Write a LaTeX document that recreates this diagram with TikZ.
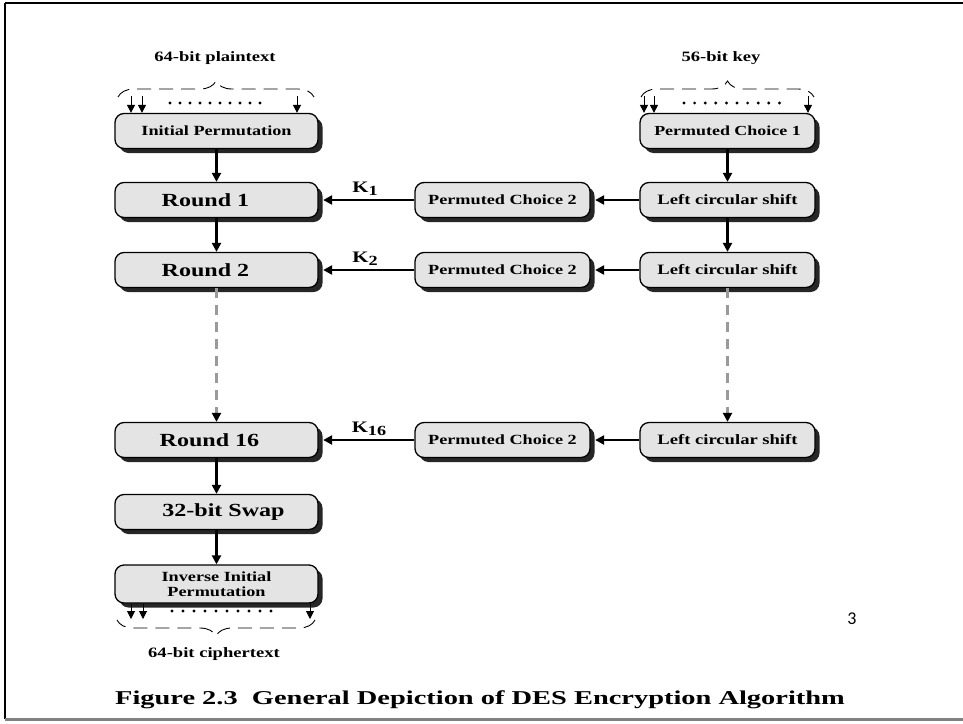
\documentclass[tikz,border=0pt]{standalone}
\usepackage{fontspec}
\setmainfont{Liberation Serif}[FakeStretch=1.3]
\newfontfamily\capfont{Liberation Serif}[FakeStretch=1.45]
\newfontfamily\pagefont{Carlito}
\usetikzlibrary{arrows.meta,shadows,decorations.pathreplacing}
\definecolor{boxfill}{HTML}{E4E4E4}
\definecolor{dashgray}{HTML}{9A9A9A}
\definecolor{framegray}{HTML}{808080}
\newcommand{\ksub}[1]{K\raisebox{-3.5pt}{\fontsize{14}{14}\selectfont #1}}
\begin{document}
\begin{tikzpicture}[x=1pt,y=-1pt,
  box/.style={draw=black, line width=1.3pt, fill=boxfill, rounded corners=9pt,
    inner sep=0pt, align=center, font=\bfseries,
    drop shadow={shadow xshift=4.5pt, shadow yshift=-4.5pt, fill=black!85, opacity=1}},
  lbox/.style={box, minimum width=203pt, minimum height=35pt},
  rbox/.style={box, minimum width=175pt, minimum height=35pt},
  flow/.style={line width=2.4pt, -{Triangle[length=9pt,width=9pt]}},
  dflow/.style={line width=2.2pt, dashgray, dash pattern=on 10pt off 7pt,
    -{Triangle[length=9pt,width=9pt,color=black]}},
  bitarrow/.style={line width=1pt, -{Triangle[length=8pt,width=8pt]}},
  bitdot/.style={circle, fill=black, inner sep=0pt, minimum size=3.2pt},
  bracebit/.style={decorate, decoration={brace, amplitude=16pt, aspect=0.5}, line width=0.9pt,
    dash pattern=on 14pt off 8pt},
  lbl/.style={font=\bfseries\fontsize{14.3}{14.3}\selectfont, inner sep=0pt},
  klbl/.style={font=\bfseries\fontsize{16}{16}\selectfont, inner sep=0pt},
  roundf/.style={font=\bfseries\fontsize{18.5}{18.5}\selectfont},
  pcf/.style={font=\bfseries\fontsize{14}{14}\selectfont},
  lcsf/.style={font=\bfseries\fontsize{14.3}{14.3}\selectfont}
]
\useasboundingbox (0,0) rectangle (963,723);
% frame
\draw[line width=1.2pt] (5,3) -- (963,3);
\draw[line width=1.2pt] (5,3) -- (5,719);
\draw[framegray, line width=3.5pt] (5,719.5) -- (963,719.5);

% left column
\node[lbox, font=\bfseries\fontsize{14}{14}\selectfont] (ip) at (216.5,131) {Initial Permutation};
\node[lbox, roundf] (r1) at (216.5,200) {Round 1\hspace*{22pt}};
\node[lbox, roundf] (r2) at (216.5,270) {Round 2\hspace*{22pt}};
\node[lbox, roundf] (r16) at (216.5,440) {Round 16\hspace*{14pt}};
\node[lbox, roundf] (sw) at (216.5,512) {\hspace*{14pt}32-bit Swap};
\node[lbox, minimum height=38pt, font=\bfseries\fontsize{14}{15}\selectfont] (iip) at (216.5,584) {Inverse Initial\\Permutation};

% middle column
\node[rbox, pcf] (pc2a) at (502.5,200) {Permuted Choice 2};
\node[rbox, pcf] (pc2b) at (502.5,270) {Permuted Choice 2};
\node[rbox, pcf] (pc2c) at (502.5,440) {Permuted Choice 2};

% right column
\node[rbox, font=\bfseries\fontsize{13.8}{13.8}\selectfont] (pc1) at (727.5,131) {Permuted Choice 1};
\node[rbox, lcsf] (lcs1) at (727.5,200) {Left circular shift};
\node[rbox, lcsf] (lcs2) at (727.5,270) {Left circular shift};
\node[rbox, lcsf] (lcs16) at (727.5,440) {Left circular shift};

% vertical flows
\draw[flow] (ip) -- (r1);
\draw[flow] (r1) -- (r2);
\draw[dflow] (r2) -- (r16);
\draw[flow] (r16) -- (sw);
\draw[flow] (sw) -- (iip);
\draw[flow] (pc1) -- (lcs1);
\draw[flow] (lcs1) -- (lcs2);
\draw[dflow] (lcs2) -- (lcs16);

% horizontal flows
\draw[flow] (lcs1.west) -- ([xshift=4.5pt]pc2a.east);
\draw[flow] (lcs2.west) -- ([xshift=4.5pt]pc2b.east);
\draw[flow] (lcs16.west) -- ([xshift=4.5pt]pc2c.east);
\draw[flow] (pc2a.west) -- ([xshift=4.5pt]r1.east);
\draw[flow] (pc2b.west) -- ([xshift=4.5pt]r2.east);
\draw[flow] (pc2c.west) -- ([xshift=4.5pt]r16.east);

% key labels
\node[klbl] (k1) at (365,189) {\ksub{1}};
\node[klbl] (k2) at (365,259) {\ksub{2}};
\node[klbl] (k16) at (369,429) {\ksub{16}};

% plaintext input
\node[lbl] (pt) at (215,58) {64-bit plaintext};
\draw[bracebit] (118,97) -- (314,97);
\coordinate (pa1) at (131,96);
\coordinate (pa2) at (142,96);
\coordinate (pa3) at (297,96);
\draw[bitarrow] (pa1) -- (pa1 |- ip.north);
\draw[bitarrow] (pa2) -- (pa2 |- ip.north);
\draw[bitarrow] (pa3) -- (pa3 |- ip.north);
\foreach \i in {0,...,9} \node[bitdot] (pd\i) at (170+\i*10,103) {};

% key input
\node[lbl] (kt) at (721,58) {56-bit key};
\draw[bracebit] (641,97) -- (814,97);
\coordinate (ka1) at (644,96);
\coordinate (ka2) at (654,96);
\coordinate (ka3) at (808,96);
\draw[bitarrow] (ka1) -- (ka1 |- pc1.north);
\draw[bitarrow] (ka2) -- (ka2 |- pc1.north);
\draw[bitarrow] (ka3) -- (ka3 |- pc1.north);
\foreach \i in {0,...,9} \node[bitdot] (kd\i) at (684+\i*10.6,103) {};

% ciphertext output
\coordinate (ca1) at (131,619);
\coordinate (ca2) at (143,619);
\coordinate (ca3) at (310,619);
\draw[bitarrow] (ca1 |- iip.south) -- (ca1);
\draw[bitarrow] (ca2 |- iip.south) -- (ca2);
\draw[bitarrow] (ca3 |- iip.south) -- (ca3);
\foreach \i in {0,...,9} \node[bitdot] (cd\i) at (172+\i*11,611) {};
\draw[bracebit] (315,620) -- (117,620);
\node[lbl] (ct) at (214,654) {64-bit ciphertext};

% page number and caption
\node[font=\pagefont\fontsize{18}{18}\selectfont, inner sep=0pt] (pg) at (852,619) {3};
\node[font=\capfont\bfseries\fontsize{19.6}{19.6}\selectfont, inner sep=0pt] (cap) at (480,700)
  {Figure 2.3\ \ General Depiction of DES Encryption Algorithm};
\end{tikzpicture}
\end{document}
